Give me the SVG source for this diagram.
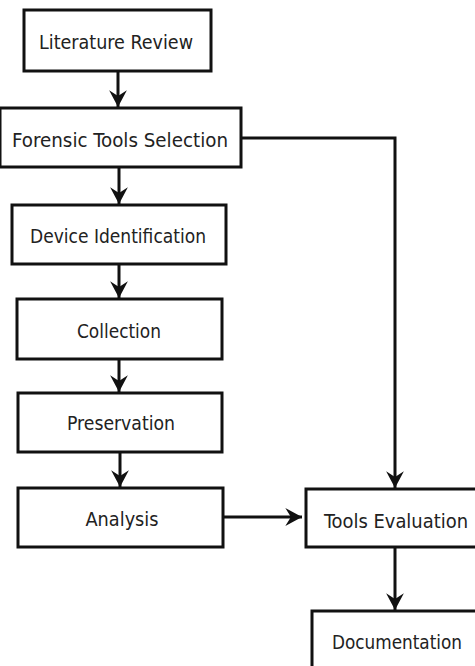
<svg xmlns="http://www.w3.org/2000/svg" width="475" height="666" viewBox="0 0 475 666">
<style>
.box{fill:#fff;stroke:#111;stroke-width:3}
.lbl{font-family:"DejaVu Sans Condensed","DejaVu Sans",sans-serif;font-size:20px;fill:#222;text-anchor:middle}
.con{fill:none;stroke:#111;stroke-width:3}
</style>
<defs>
<marker id="ah" markerUnits="userSpaceOnUse" markerWidth="20" markerHeight="20" viewBox="-16 -9 18 18" refX="0" refY="0" orient="auto">
<path d="M0,0 L-15,-8 L-10,0 L-15,8 Z" fill="#111"/>
</marker>
</defs>
<rect width="475" height="666" fill="#fff"/>
<g id="connectors">
<line class="con" x1="118" y1="71" x2="118" y2="107" marker-end="url(#ah)"/>
<line class="con" x1="119" y1="167" x2="119" y2="204" marker-end="url(#ah)"/>
<line class="con" x1="119" y1="264" x2="119" y2="298" marker-end="url(#ah)"/>
<line class="con" x1="119" y1="359" x2="119" y2="392" marker-end="url(#ah)"/>
<line class="con" x1="120" y1="452" x2="120" y2="487" marker-end="url(#ah)"/>
<polyline class="con" points="241,138 395,138 395,488" marker-end="url(#ah)"/>
<line class="con" x1="223" y1="517" x2="302" y2="517" marker-end="url(#ah)"/>
<line class="con" x1="395" y1="547" x2="395" y2="610" marker-end="url(#ah)"/>
</g>
<g id="literature-review">
<rect class="box" x="24" y="10" width="187" height="61"/>
<text class="lbl" x="116" y="49" textLength="154" lengthAdjust="spacingAndGlyphs">Literature Review</text>
</g>
<g id="forensic-tools-selection">
<rect class="box" x="0" y="108" width="241" height="59"/>
<text class="lbl" x="120" y="147" textLength="216" lengthAdjust="spacingAndGlyphs">Forensic Tools Selection</text>
</g>
<g id="device-identification">
<rect class="box" x="12" y="205" width="214" height="59"/>
<text class="lbl" x="118" y="243" textLength="176" lengthAdjust="spacingAndGlyphs">Device Identification</text>
</g>
<g id="collection">
<rect class="box" x="17" y="299" width="205" height="60"/>
<text class="lbl" x="119" y="338" textLength="84" lengthAdjust="spacingAndGlyphs">Collection</text>
</g>
<g id="preservation">
<rect class="box" x="18" y="393" width="204" height="59"/>
<text class="lbl" x="121" y="430" textLength="108" lengthAdjust="spacingAndGlyphs">Preservation</text>
</g>
<g id="analysis">
<rect class="box" x="18" y="488" width="205" height="59"/>
<text class="lbl" x="122" y="526" textLength="73" lengthAdjust="spacingAndGlyphs">Analysis</text>
</g>
<g id="tools-evaluation">
<rect class="box" x="306" y="489" width="180" height="58"/>
<text class="lbl" x="396" y="528" textLength="144" lengthAdjust="spacingAndGlyphs">Tools Evaluation</text>
</g>
<g id="documentation">
<rect class="box" x="312" y="611" width="180" height="70"/>
<text class="lbl" x="397" y="649" textLength="130" lengthAdjust="spacingAndGlyphs">Documentation</text>
</g>
</svg>
